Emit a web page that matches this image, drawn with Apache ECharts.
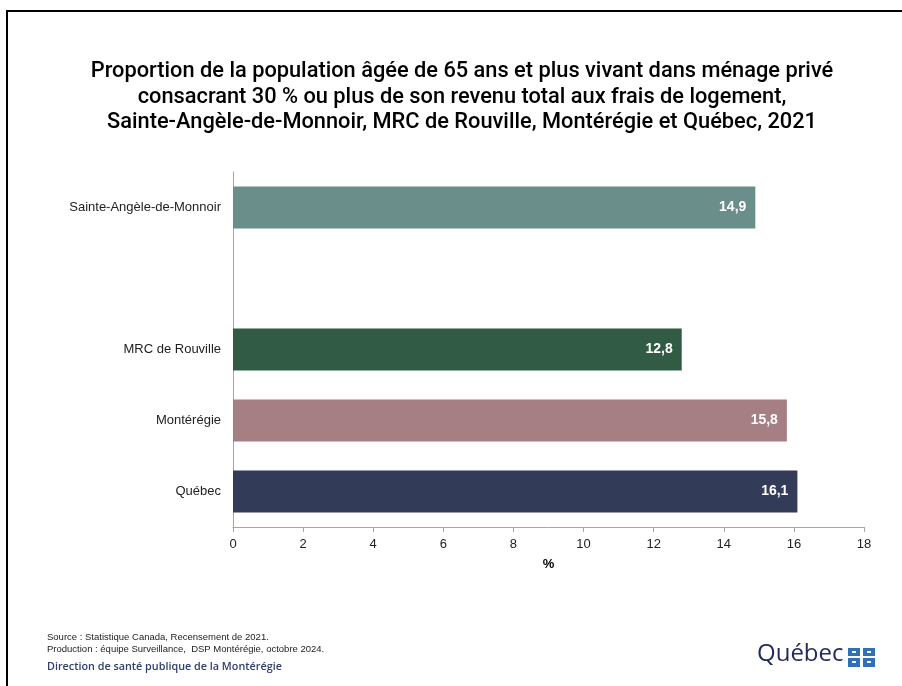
<!DOCTYPE html>
<html>
<head>
<meta charset="utf-8">
<script src="https://cdn.jsdelivr.net/npm/echarts@6/dist/echarts.min.js"></script>
<style>
  html, body { margin: 0; padding: 0; background: #fff; }
  #chart { width: 902px; height: 686px; }
</style>
</head>
<body>
<div id="chart"></div>
<script>
// données (un emplacement vide sépare la municipalité des territoires)
var categories = ['Sainte-Angèle-de-Monnoir', '', 'MRC de Rouville', 'Montérégie', 'Québec'];
var values = [14.9, null, 12.8, 15.8, 16.1];
var barColors = ['#6A8F8A', '#ffffff', '#315B45', '#A57F84', '#323B57'];
var xTicks = [0, 2, 4, 6, 8, 10, 12, 14, 16, 18];

var chart = echarts.init(document.getElementById('chart'));

var option = {
  backgroundColor: '#fff',
  animation: false,
  title: {
    text: 'Proportion de la population âgée de 65 ans et plus vivant dans ménage privé\nconsacrant 30 % ou plus de son revenu total aux frais de logement,\nSainte-Angèle-de-Monnoir, MRC de Rouville, Montérégie et Québec, 2021',
    left: 457,
    textAlign: 'center',
    top: 54,
    textStyle: {
      fontFamily: 'Roboto',
      fontWeight: 500,
      fontSize: 21.8,
      lineHeight: 25.5,
      color: '#000'
    }
  },
  grid: {
    left: 233,
    right: 38,
    top: 172,
    bottom: 159,
    containLabel: false
  },
  xAxis: {
    type: 'value',
    min: xTicks[0],
    max: xTicks[xTicks.length - 1],
    interval: 2,
    name: '%',
    nameLocation: 'middle',
    nameGap: 31,
    nameTextStyle: { fontFamily: 'Liberation Sans', fontWeight: 'bold', fontSize: 13, color: '#000' },
    splitLine: { show: false },
    axisLine: { show: true, lineStyle: { color: '#A6A6A6', width: 1 } },
    axisTick: { show: true, length: 5, lineStyle: { color: '#A6A6A6' } },
    axisLabel: { fontFamily: 'Liberation Sans', fontSize: 13, color: '#222', margin: 11 }
  },
  yAxis: {
    type: 'category',
    data: categories,
    inverse: true,
    axisLine: { show: true, lineStyle: { color: '#A6A6A6', width: 1 } },
    axisTick: { show: false },
    axisLabel: { fontFamily: 'Liberation Sans', fontSize: 13, color: '#222', margin: 12 }
  },
  series: [{
    type: 'bar',
    data: values,
    barCategoryGap: '41%',
    itemStyle: {
      color: function (p) { return barColors[p.dataIndex]; }
    },
    label: {
      show: true,
      position: 'insideRight',
      distance: 9,
      color: '#fff',
      fontFamily: 'Liberation Sans',
      fontWeight: 'bold',
      fontSize: 14,
      formatter: function (p) { return p.value == null ? '' : p.value.toFixed(1).replace('.', ','); }
    }
  }],
  graphic: [
    {
      type: 'rect',
      shape: { x: 7, y: 11, width: 1000, height: 1000 },
      style: { fill: 'none', stroke: '#000', lineWidth: 2 },
      silent: true
    },
    {
      type: 'text',
      left: 47, top: 631,
      style: {
        text: 'Source : Statistique Canada, Recensement de 2021.\nProduction : équipe Surveillance,  DSP Montérégie, octobre 2024.',
        fontFamily: 'Liberation Sans', fontSize: 9.5, lineHeight: 12, fill: '#222'
      }
    },
    {
      type: 'text',
      left: 47, top: 661,
      style: {
        text: 'Direction de santé publique de la Montérégie',
        fontFamily: 'Open Sans', fontWeight: 600, fontSize: 10.8, fill: '#2E3F6E'
      }
    },
    {
      type: 'text',
      left: 757, top: 642,
      style: {
        text: 'Québec',
        fontFamily: 'Open Sans', fontSize: 24, fill: '#222C5C'
      }
    },
    { type: 'rect', shape: { x: 848, y: 648, width: 12, height: 8 }, style: { fill: '#3070B8' } },
    { type: 'rect', shape: { x: 863, y: 648, width: 12, height: 8 }, style: { fill: '#3070B8' } },
    { type: 'rect', shape: { x: 848, y: 658, width: 12, height: 9 }, style: { fill: '#3070B8' } },
    { type: 'rect', shape: { x: 863, y: 658, width: 12, height: 9 }, style: { fill: '#3070B8' } },
    { type: 'rect', shape: { x: 852, y: 651, width: 4, height: 2 }, style: { fill: '#fff' } },
    { type: 'rect', shape: { x: 867, y: 651, width: 4, height: 2 }, style: { fill: '#fff' } },
    { type: 'rect', shape: { x: 852, y: 661, width: 4, height: 2 }, style: { fill: '#fff' } },
    { type: 'rect', shape: { x: 867, y: 661, width: 4, height: 2 }, style: { fill: '#fff' } }
  ]
};

chart.setOption(option);
</script>
</body>
</html>
